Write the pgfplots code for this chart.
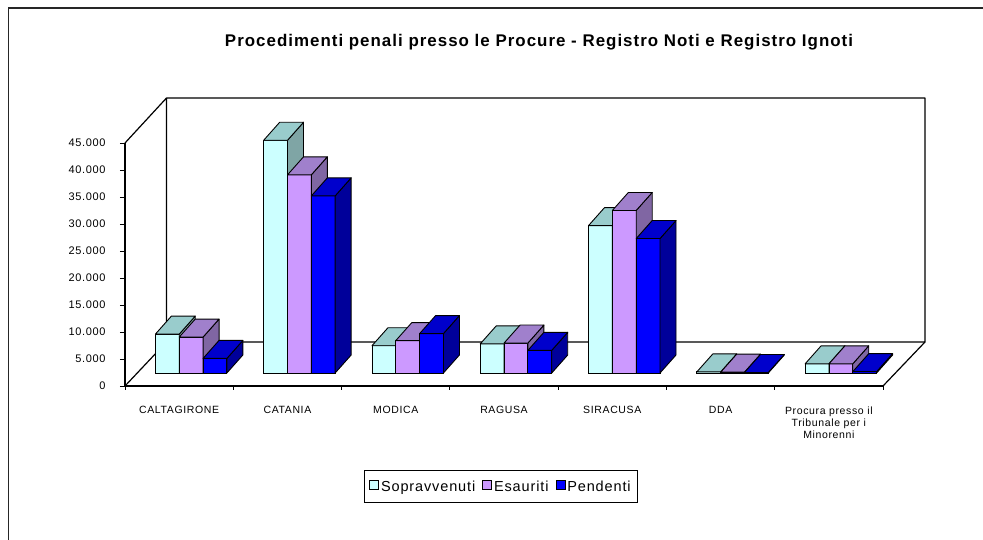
\documentclass[border=0pt]{standalone}
\usepackage{pgfplots}
\pgfplotsset{compat=1.18}
\usepackage{fontspec}
\setmainfont{Liberation Sans}
\newfontfamily\xl{Liberation Sans}[LetterSpace=6]
\definecolor{cS}{HTML}{CCFFFF}
\definecolor{tS}{HTML}{99CCCC}
\definecolor{sS}{HTML}{7FA5A5}
\definecolor{cE}{HTML}{CC99FF}
\definecolor{tE}{HTML}{A080CC}
\definecolor{sE}{HTML}{8066A3}
\definecolor{cP}{HTML}{0000FF}
\definecolor{tP}{HTML}{0000CC}
\definecolor{sP}{HTML}{00009A}
\pgfdeclareplotmark{nothing}{}
\newcommand{\cubefaces}[3]{%
  \pgfmathsetmacro\hh{\pgfplotspointmetatransformed*0.243}%
  \pgfmathsetmacro\hb{18-\hh}%
  \fill[#1,draw=black,line width=0.9pt,line join=round] (-11.91pt,-\hh pt) rectangle (11.91pt,0pt);
  \fill[#3,draw=black,line width=0.9pt,line join=round] (11.91pt,0pt) -- (27.91pt,18pt) -- (27.91pt,\hb pt) -- (11.91pt,-\hh pt) -- cycle;
  \fill[#2,draw=black,line width=0.9pt,line join=round] (-11.91pt,0pt) -- (11.91pt,0pt) -- (27.91pt,18pt) -- (4.09pt,18pt) -- cycle;
}
\pgfplotsset{
  cube/.style n args={3}{
    ybar, bar width=0.22, bar shift=0pt, fill=#1, draw=black, line width=0.9pt,
    xshift=12pt, yshift=13pt,
    scatter, mark=nothing, point meta=y,
    scatter/@pre marker code/.code={\cubefaces{#1}{#2}{#3}},
    scatter/@post marker code/.code={},
    legend image code/.code={\filldraw[fill=#1,draw=black,line width=0.8pt] (0pt,-16pt) rectangle (9pt,-7pt);}
  }
}
\begin{document}
\begin{tikzpicture}
\begin{scope}[x=1pt,y=1pt]
\useasboundingbox (0,0) rectangle (983,540);
\draw[line width=1.5pt, black!85] (8.5,0) -- (8.5,532) -- (983,532);
\draw[line width=1.2pt, line join=round] (125,397) -- (166.5,442) -- (925,442) -- (925,198) -- (166.5,198) -- (166.5,442);
\draw[line width=1.2pt] (125,154) -- (166.5,198);
\draw[line width=1.2pt] (883,154) -- (925,198);
\node[font=\xl\bfseries\fontsize{16.9}{20}\selectfont, anchor=base, inner sep=0pt] at (539,493) {Procedimenti penali presso le Procure - Registro Noti e Registro Ignoti};
\end{scope}
\begin{axis}[
  at={(125pt,154pt)}, anchor=south west,
  scale only axis, width=758pt, height=243pt,
  clip=false,
  xmin=-0.5, xmax=6.5, ymin=0, ymax=45000,
  point meta min=0, point meta max=45000,
  axis lines*=left,
  axis line style={line width=1.2pt},
  tick align=outside,
  ytick={0,5000,...,45000},
  scaled y ticks=false,
  /pgf/number format/assume math mode=true,
  yticklabel style={/pgf/number format/1000 sep={.}, font=\xl\fontsize{11}{13}\selectfont, anchor=east, xshift=-11pt},
  y tick style={black, line width=0.8pt},
  major tick length=5pt,
  xtick={0,...,6},
  xticklabels={CALTAGIRONE,CATANIA,MODICA,RAGUSA,SIRACUSA,DDA,{Procura presso il\\Tribunale per i\\Minorenni}},
  xticklabel style={align=center, font=\xl\fontsize{10.5}{12}\selectfont, anchor=north, yshift=-12pt},
  major x tick style={draw=none},
  minor xtick={-0.5,0.5,...,6.5},
  minor x tick style={black, line width=0.8pt},
  minor tick length=4pt,
  legend style={at={(0.496,-0.4136)}, anchor=center, legend columns=3, draw=black, line width=0.8pt,
    font=\xl\fontsize{14.5}{16}\selectfont, inner xsep=5pt, inner ysep=8pt,
    /tikz/every even column/.append style={column sep=5pt}},
]
\addplot[cube={cS}{tS}{sS}] coordinates {(-0.22,7200) (0.78,43100) (1.78,5050) (2.78,5400) (3.78,27300) (4.78,200) (5.78,1700)};
\addlegendentry{Sopravvenuti}
\addplot[cube={cE}{tE}{sE}] coordinates {(0,6650) (1,36700) (2,6000) (3,5550) (4,30100) (5,150) (6,1700)};
\addlegendentry{Esauriti}
\addplot[cube={cP}{tP}{sP}] coordinates {(0.22,2700) (1.22,32800) (2.22,7300) (3.22,4200) (4.22,24900) (5.22,100) (6.22,250)};
\addlegendentry{Pendenti}
\end{axis}
\end{tikzpicture}
\end{document}
